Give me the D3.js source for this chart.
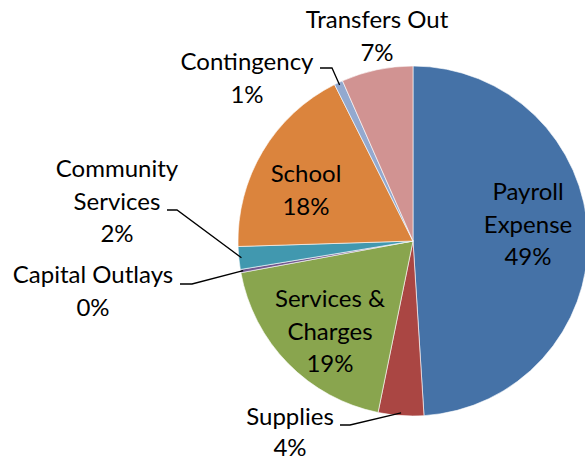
<!DOCTYPE html>
<html>
<head>
<meta charset="utf-8">
<script src="https://cdn.jsdelivr.net/npm/d3@7"></script>
<style>
  html, body { margin: 0; padding: 0; background: #fff; }
  svg text { font-family: Lato, "Open Sans", sans-serif; font-size: 24px; fill: #000; }
</style>
</head>
<body>
<svg id="chart" width="585" height="462"></svg>
<script>
// chart data (percent of total budget)
var categories = ['Payroll Expense', 'Supplies', 'Services & Charges', 'Capital Outlays',
  'Community Services', 'School', 'Contingency', 'Transfers Out']
var values = [49.0, 4.2, 18.9, 0.3, 2.1, 18.1, 0.8, 6.6]
var colors = ['#4572A7', '#AA4643', '#89A54E', '#71588F', '#4198AF', '#DB843D', '#93A9CF', '#D19392']

// label text lines and anchor (center x, first baseline y), leader line elbow
var labelLines = [
  ['Payroll', 'Expense'], ['Supplies'], ['Services &', 'Charges'], ['Capital Outlays'],
  ['Community', 'Services'], ['School'], ['Contingency'], ['Transfers Out']
]
var labelLayout = [
  { x: 528, y: 200 },
  { x: 290, y: 425, line: [[340, 425], [350, 425]], gap: 31 },
  { x: 330, y: 307 },
  { x: 93, y: 283, line: [[180, 284], [192, 284]] },
  { x: 117, y: 177, line: [[167, 210], [177, 210]] },
  { x: 306, y: 182 },
  { x: 247, y: 70, line: [[320, 68], [332, 68]] },
  { x: 377, y: 28 }
]

var svg = d3.select('#chart')
var cx = 413
var cy = 241
var radius = 175
var lineHeight = 32.5

var data = categories.map(function (c, i) {
  return { name: c, value: values[i], color: colors[i], lines: labelLines[i], layout: labelLayout[i] }
})

var pie = d3.pie()
  .value(function (d) { return d.value })
  .sort(null)
var arcs = pie(data)

var arc = d3.arc().innerRadius(0).outerRadius(radius)

var g = svg.append('g')
  .attr('transform', 'translate(' + cx + ',' + cy + ')')

g.selectAll('.slice')
  .data(arcs)
  .enter()
  .append('path')
  .attr('class', 'slice')
  .attr('d', arc)
  .attr('fill', function (d) { return d.data.color })
  .attr('stroke', '#ffffff')
  .attr('stroke-width', 0.6)

// leader lines: from label elbow to the slice edge at mid angle
arcs.forEach(function (d) {
  var lay = d.data.layout
  if (!lay.line) return
  var mid = (d.startAngle + d.endAngle) / 2
  var r = radius * 0.985
  var px = cx + r * Math.sin(mid)
  var py = cy - r * Math.cos(mid)
  var pts = lay.line.concat([[px, py]])
  svg.append('path')
    .attr('d', d3.line()(pts))
    .attr('fill', 'none')
    .attr('stroke', '#000')
    .attr('stroke-width', 1.3)
})

// labels
arcs.forEach(function (d) {
  var lay = d.data.layout
  var gap = lay.gap || lineHeight
  var lines = d.data.lines.concat([Math.round(d.data.value) + '%'])
  var t = svg.append('text')
    .attr('text-anchor', 'middle')
  lines.forEach(function (s, i) {
    t.append('tspan')
      .attr('x', lay.x)
      .attr('y', lay.y + i * gap)
      .text(s)
  })
})
</script>
</body>
</html>
